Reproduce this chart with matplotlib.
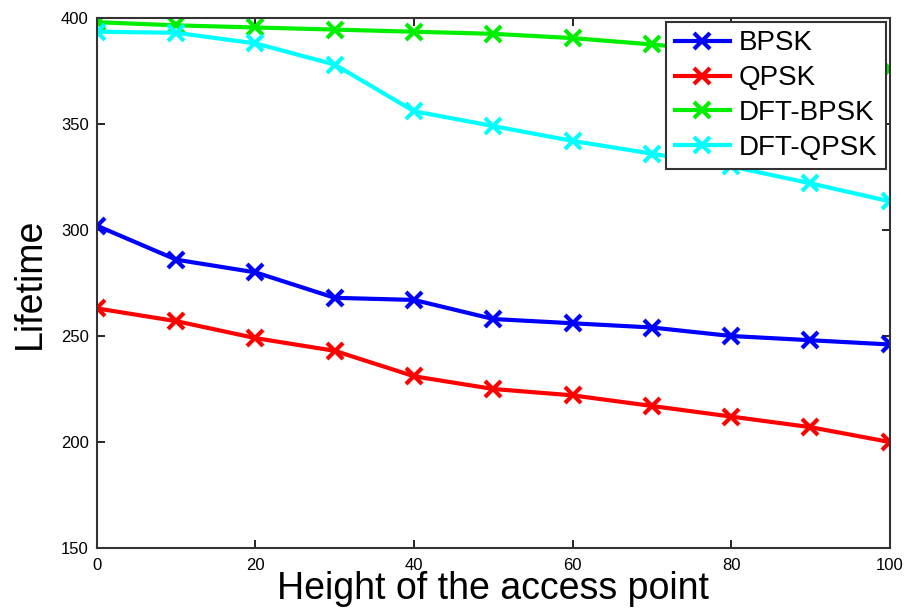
import matplotlib

matplotlib.use("Agg")
import matplotlib.pyplot as plt

# values
heights = [0, 10, 20, 30, 40, 50, 60, 70, 80, 90, 100]
bpsk = [302, 286, 280, 268, 267, 258, 256, 254, 250, 248, 246]
qpsk = [263, 257, 249, 243, 231, 225, 222, 217, 212, 207, 200]
dft_bpsk = [398, 396.5, 395.5, 394.5, 393.5, 392.5, 390.5, 387.5, 384, 380, 376]
dft_qpsk = [393.5, 393, 388, 378, 356, 349, 342, 336, 330, 322, 313.5]

series = [
    ("BPSK", bpsk, "#0000ff"),
    ("QPSK", qpsk, "#ff0000"),
    ("DFT-BPSK", dft_bpsk, "#00ee00"),
    ("DFT-QPSK", dft_qpsk, "#00ffff"),
]

plt.rcParams["font.family"] = ["Liberation Sans", "DejaVu Sans"]

fig = plt.figure(figsize=(9.06, 6.10), dpi=100)
ax = fig.add_axes([0.107, 0.1016, 0.875, 0.869])

for name, vals, color in series:
    ax.plot(heights, vals, color=color, lw=3, marker="x", ms=11, mew=3, label=name)

ax.set_xlim(0, 100)
ax.set_ylim(150, 400)
ax.set_xticks(range(0, 101, 20))
ax.set_yticks(range(150, 401, 50))
ax.tick_params(direction="in", top=True, right=True, labelsize=12, length=6, width=1.2)
ax.tick_params(axis="x", pad=7)
ax.tick_params(axis="y", pad=6)
for s in ax.spines.values():
    s.set_linewidth(1.5)
    s.set_color("#333333")

ax.set_xlabel("Height of the access point", fontsize=27, labelpad=-1)
ax.set_ylabel("Lifetime", fontsize=27, labelpad=9)

leg = ax.legend(loc="upper right", fontsize=20, frameon=True, fancybox=False,
                framealpha=1, edgecolor="#333333", handlelength=2.0,
                handletextpad=0.3, borderpad=0.3, labelspacing=0.32,
                borderaxespad=0.15)
leg.get_frame().set_linewidth(1.5)
leg.set_zorder(10)

fig.savefig("out.png", dpi=100)
